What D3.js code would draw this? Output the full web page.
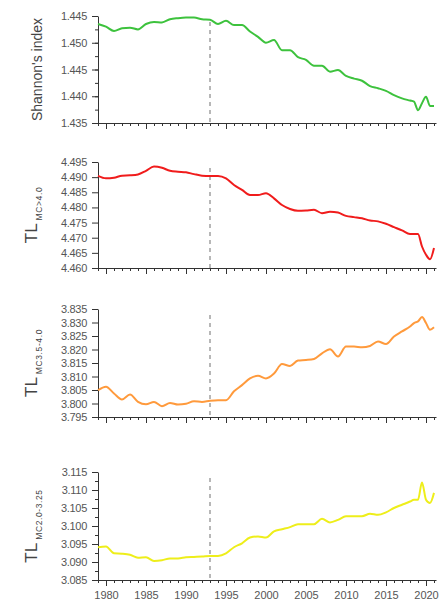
<!DOCTYPE html>
<html lang="en">
<head>
<meta charset="UTF-8">
<title>Shannon index and TL</title>
<script src="https://cdn.jsdelivr.net/npm/d3@7"></script>
<style>
    html, body { margin: 0; padding: 0; background: #fff; }
    svg { display: block; font-family: "Liberation Sans", Arial, sans-serif; }
</style>
</head>
<body>
<svg id="chart" width="439" height="600"></svg>
<script>
    // years (a few half-year steps at the end where the series jump)
    const years = [1979, 1980, 1981, 1982, 1983, 1984, 1985, 1986, 1987, 1988, 1989,
        1990, 1991, 1992, 1993, 1994, 1995, 1996, 1997, 1998, 1999,
        2000, 2001, 2002, 2003, 2004, 2005, 2006, 2007, 2008, 2009,
        2010, 2011, 2012, 2013, 2014, 2015, 2016, 2017, 2018, 2018.5,
        2019, 2019.5, 2020, 2020.5, 2021];

    const shannon = [1.4535, 1.4530, 1.4522, 1.4527, 1.4528, 1.4525, 1.4535, 1.4539, 1.4538, 1.4544, 1.4546,
        1.4547, 1.4547, 1.4544, 1.4543, 1.4535, 1.4541, 1.4533, 1.4533, 1.4521, 1.4511,
        1.4500, 1.4505, 1.4486, 1.4486, 1.4473, 1.4468, 1.4457, 1.4457, 1.4446, 1.4449,
        1.4438, 1.4433, 1.4429, 1.4419, 1.4415, 1.4410, 1.4402, 1.4396, 1.4392, 1.4390,
        1.4374, 1.4387, 1.4399, 1.4382, 1.4382];

    const tlAbove40 = [4.4904, 4.4896, 4.4898, 4.4905, 4.4906, 4.4909, 4.4921, 4.4935, 4.4931, 4.4921, 4.4918,
        4.4916, 4.4910, 4.4905, 4.4904, 4.4904, 4.4896, 4.4874, 4.4858, 4.4841, 4.4841,
        4.4847, 4.4830, 4.4808, 4.4795, 4.4789, 4.4790, 4.4792, 4.4781, 4.4786, 4.4783,
        4.4772, 4.4768, 4.4764, 4.4757, 4.4754, 4.4746, 4.4735, 4.4724, 4.4712, 4.4712,
        4.4712, 4.4671, 4.4644, 4.4629, 4.4666];

    const tl35to40 = [3.8049, 3.8062, 3.8037, 3.8015, 3.8033, 3.8006, 3.7997, 3.8006, 3.7990, 3.8002, 3.7996,
        3.7999, 3.8008, 3.8006, 3.8010, 3.8012, 3.8012, 3.8045, 3.8068, 3.8093, 3.8103,
        3.8093, 3.8111, 3.8146, 3.8139, 3.8159, 3.8161, 3.8165, 3.8186, 3.8201, 3.8174,
        3.8211, 3.8211, 3.8208, 3.8213, 3.8230, 3.8220, 3.8248, 3.8267, 3.8285, 3.8298,
        3.8304, 3.8320, 3.8298, 3.8273, 3.8282];

    const tl20to325 = [3.0941, 3.0943, 3.0924, 3.0923, 3.0920, 3.0912, 3.0913, 3.0903, 3.0905, 3.0910, 3.0910,
        3.0913, 3.0914, 3.0915, 3.0917, 3.0917, 3.0924, 3.0941, 3.0952, 3.0968, 3.0971,
        3.0968, 3.0985, 3.0991, 3.0997, 3.1005, 3.1005, 3.1005, 3.1020, 3.1010, 3.1017,
        3.1027, 3.1027, 3.1027, 3.1034, 3.1031, 3.1038, 3.1050, 3.1059, 3.1068, 3.1073,
        3.1073, 3.1121, 3.1073, 3.1064, 3.1092];

    // tick labels as printed on the figure
    const shannonTicks = [1.455, 1.450, 1.445, 1.440, 1.435];
    const shannonTickLabels = ["1.445", "1.450", "1.445", "1.440", "1.435"];
    const tlAboveTicks = [4.495, 4.490, 4.485, 4.480, 4.475, 4.470, 4.465, 4.460];
    const tlMidTicks = [3.835, 3.830, 3.825, 3.820, 3.815, 3.810, 3.805, 3.800, 3.795];
    const tlLowTicks = [3.115, 3.110, 3.105, 3.100, 3.095, 3.090, 3.085];
    const yearTicks = [1980, 1985, 1990, 1995, 2000, 2005, 2010, 2015, 2020];
    const breakYear = 1993;

    const svg = d3.select("#chart");

    const x = d3.scaleLinear().domain([1979, 2021.25]).range([98, 436]);

    const panels = [
        {values: shannon, color: "#3dc23d", domain: [1.435, 1.455], top: 16, bottom: 123,
            ticks: shannonTicks, labels: shannonTickLabels, minor: 0.0025,
            title: "Shannon's index", sub: null},
        {values: tlAbove40, color: "#f01c1c", domain: [4.460, 4.495], top: 162, bottom: 268,
            ticks: tlAboveTicks, labels: null, minor: null,
            title: "TL", sub: "MC>4.0"},
        {values: tl35to40, color: "#ff9a3c", domain: [3.795, 3.835], top: 309, bottom: 417,
            ticks: tlMidTicks, labels: null, minor: null,
            title: "TL", sub: "MC3.5-4.0"},
        {values: tl20to325, color: "#eeee1a", domain: [3.085, 3.115], top: 472, bottom: 580,
            ticks: tlLowTicks, labels: null, minor: 0.0025,
            title: "TL", sub: "MC2.0-3.25"}
    ];

    panels.forEach((p, i) => {
        const y = d3.scaleLinear().domain(p.domain).range([p.bottom, p.top]);
        const g = svg.append("g");

        // minor y ticks
        if (p.minor) {
            const n = Math.round((p.domain[1] - p.domain[0]) / p.minor);
            const minorVals = d3.range(n + 1).map(k => p.domain[0] + k * p.minor);
            g.append("g")
                .attr("transform", `translate(${x.range()[0]},0)`)
                .call(d3.axisLeft(y).tickValues(minorVals).tickSize(3).tickFormat(""))
                .call(a => a.select(".domain").remove())
                .selectAll("line").attr("stroke", "#333");
        }

        // y axis
        const yAxis = g.append("g")
            .attr("transform", `translate(${x.range()[0]},0)`)
            .call(d3.axisLeft(y).tickValues(p.ticks).tickSize(6).tickPadding(5).tickSizeOuter(0)
                .tickFormat((d, j) => p.labels ? p.labels[j] : d3.format(".3f")(d)));
        yAxis.select(".domain").attr("stroke", "#333");
        yAxis.selectAll("line").attr("stroke", "#333");
        yAxis.selectAll("text").attr("fill", "#555").style("font-size", "11px")
            .style("letter-spacing", "-0.3px");

        // x axis, minor + major ticks
        const xMinor = g.append("g")
            .attr("transform", `translate(0,${p.bottom})`)
            .call(d3.axisBottom(x).tickValues(d3.range(1979, 2022)).tickSize(3).tickFormat(""));
        xMinor.select(".domain").remove();
        xMinor.selectAll("line").attr("stroke", "#333");

        const xAxis = g.append("g")
            .attr("transform", `translate(0,${p.bottom})`)
            .call(d3.axisBottom(x).tickValues(yearTicks).tickSize(6).tickSizeOuter(0)
                .tickPadding(5).tickFormat(i === panels.length - 1 ? d3.format("d") : ""));
        xAxis.select(".domain").attr("stroke", "#333");
        xAxis.selectAll("line").attr("stroke", "#333");
        xAxis.selectAll("text").attr("fill", "#555").style("font-size", "11px");

        // dashed break line
        g.append("line")
            .attr("x1", x(breakYear)).attr("x2", x(breakYear))
            .attr("y1", p.top + 6).attr("y2", p.bottom)
            .attr("stroke", "#888").attr("stroke-width", 1.2)
            .attr("stroke-dasharray", "4,4");

        // series line
        const line = d3.line()
            .x((d, j) => x(years[j]))
            .y(d => y(d))
            .curve(d3.curveMonotoneX);

        g.append("path")
            .datum(p.values)
            .attr("fill", "none")
            .attr("stroke", p.color)
            .attr("stroke-width", 2)
            .attr("stroke-linejoin", "round")
            .attr("d", line);

        // y title
        const cy = (p.top + p.bottom) / 2;
        const t = g.append("text")
            .attr("transform", `translate(${p.sub ? 37 : 42},${cy}) rotate(-90)`)
            .attr("text-anchor", "middle")
            .attr("fill", "#444");
        if (p.sub) {
            t.append("tspan").style("font-size", "17px").text(p.title);
            t.append("tspan").style("font-size", "8.5px").style("letter-spacing", "0.6px")
                .attr("dx", 3).attr("dy", 5).text(p.sub);
        } else {
            t.style("font-size", "14px").text(p.title);
        }
    });
</script>
</body>
</html>
